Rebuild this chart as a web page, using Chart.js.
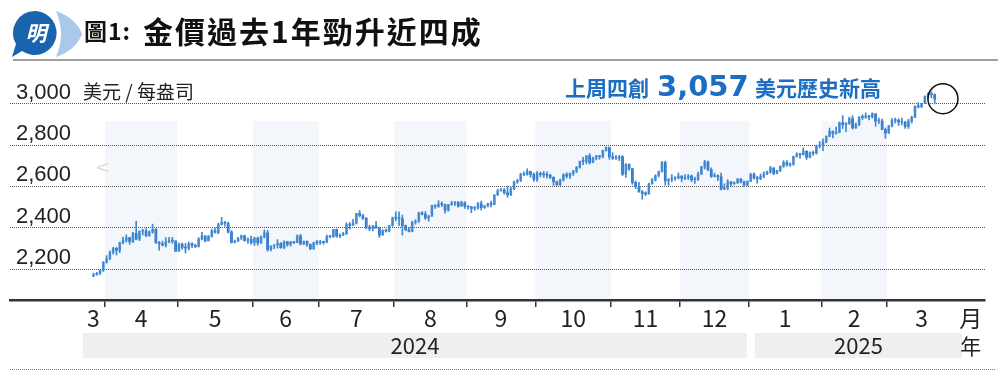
<!DOCTYPE html>
<html>
<head>
<meta charset="utf-8">
<script src="https://cdn.jsdelivr.net/npm/chart.js@4.4.1/dist/chart.umd.min.js"></script>
<style>
  html, body { margin: 0; padding: 0; background: #fff; }
  #wrap { position: relative; width: 1000px; height: 382px; overflow: hidden; font-family: "Noto Sans CJK TC", "Noto Sans", sans-serif; }
  #chart { position: absolute; left: 0; top: 0; }
  .abs { position: absolute; white-space: nowrap; line-height: 1; }
  #titleNo { left: 84px; top: 19px; font-size: 23px; font-weight: 700; letter-spacing: 1px; color: #111; }
  #title { left: 143px; top: 15px; font-size: 30px; font-weight: 700; letter-spacing: 2px; color: #111; }
  #rule { left: 13px; top: 59px; width: 985px; height: 2px; background: #a0a0a0; }
  #unit { left: 83px; top: 81px; font-size: 19px; color: #222; }
  .note { color: #1b6ec2; font-weight: 700; }
  #note1 { left: 565px; top: 77px; font-size: 21px; }
  #note2 { left: 657px; top: 72px; font-size: 29px; font-family: "DejaVu Sans", sans-serif; }
  #note3 { left: 755px; top: 77px; font-size: 21px; }
  #faint { left: 95px; top: 158px; font-size: 18px; color: #dcdcdc; font-family: "DejaVu Sans", sans-serif; }
</style>
</head>
<body>
<div id="wrap">
  <canvas id="chart" width="1000" height="382"></canvas>
  <svg class="abs" style="left:8px;top:8px" width="80" height="52" viewBox="0 0 80 52">
    <path d="M48 3 Q68 10 74 26 Q68 42 48 49 Q58 26 48 3 Z" fill="#a9c8ea"/>
    <path d="M28 3 A22 22 0 1 1 14 43 L4 49 L8 36 A22 22 0 0 1 28 3 Z" fill="#1a64ad"/>
    <text x="28" y="33" font-size="21" font-weight="700" fill="#fff" text-anchor="middle" font-family="Noto Sans CJK TC" font-style="italic">明</text>
  </svg>
  <div class="abs" id="titleNo">圖1:</div>
  <div class="abs" id="title">金價過去1年勁升近四成</div>
  <div class="abs" id="rule"></div>
  <div class="abs" id="unit">美元 / 每盎司</div>
  <div class="abs note" id="note1">上周四創</div>
  <div class="abs note" id="note2">3,057</div>
  <div class="abs note" id="note3">美元歷史新高</div>
  <div class="abs" id="faint">&lt;</div>
</div>
<script>
// trading days per month, Mar 2024 (from 25th) .. Mar 2025 (to 21st)
const months = ['3', '4', '5', '6', '7', '8', '9', '10', '11', '12', '1', '2', '3'];
const tradingDays = [4, 22, 23, 20, 23, 22, 21, 23, 21, 21, 22, 20, 15];
const years = ['2024', '2025'];
const yTicks = [2200, 2400, 2600, 2800, 3000];

// daily candles (US$/oz), one line per month
const opens = [
  2165,2172,2179,2194,
  2232,2251,2280,2300,2290, 2329,2339,2352,2333,2372, 2344,2383,2383,2361,2379, 2392,2327,2322,2316,2332, 2337,2335,
  2286,2320,2304, 2301,2323,2314,2309,2346, 2360,2336,2358,2385,2377, 2415,2425,2421,2379,2329, 2334,2350,2361,2338,2343,
  2327,2350,2326,2355,2375, 2294,2311,2316,2324,2303, 2332,2319,2330,2328,2360, 2322,2334,2319,2298,2327,
  2326,2332,2329,2356,2356, 2392,2359,2364,2371,2415, 2411,2422,2469,2458,2445, 2400,2396,2409,2398,2364, 2387,2384,2410,
  2447,2446, 2443,2409,2390,2382,2427, 2431,2472,2465,2447,2456, 2507,2504,2514,2512,2484, 2512,2518,2524,2505,2521,
  2503,2500,2493,2495,2516, 2497,2506,2516,2512,2558, 2578,2582,2569,2559,2587, 2622,2628,2657,2657,2672, 2658,
  2634,2663,2658,2656, 2653,2644,2622,2608,2631, 2657,2649,2663,2674,2692, 2721,2720,2748,2715,2736, 2747,2743,2774,2788,
  2743, 2736,2736,2743,2659,2706, 2685,2619,2598,2573,2565, 2563,2612,2631,2651,2670, 2715,2626,2633,2637,2639,
  2650,2639,2643,2650,2632, 2633,2660,2694,2718,2680, 2648,2652,2646,2586,2594, 2622,2612,2617,2634, 2621,2606,
  2624,2658, 2640,2636,2648,2661,2670, 2689,2663,2677,2697,2715, 2703,2708,2745,2755,2754, 2770,2740,2763,2760,2794,
  2798,2815,2842,2866,2856, 2861,2908,2898,2904,2928, 2883,2898,2935,2933,2940, 2936,2951,2915,2916,2875,
  2858,2893,2918,2920,2910, 2910,2889,2916,2934,2988, 2984,3001,3035,3048,3044
];
const highs = [
  2180,2184,2195,2236,
  2265,2288,2305,2305,2330, 2354,2365,2354,2378,2431, 2384,2392,2395,2385,2417, 2395,2334,2335,2352,2353, 2353,2338,
  2327,2326,2324, 2331,2327,2320,2352,2378, 2361,2362,2392,2398,2422, 2450,2431,2427,2386,2340, 2353,2364,2364,2351,2360,
  2354,2354,2361,2388,2387, 2313,2318,2342,2328,2336, 2334,2334,2334,2365,2368, 2336,2336,2321,2330,2339,
  2339,2335,2365,2363,2392, 2393,2370,2378,2424,2425, 2440,2469,2483,2464,2449, 2412,2410,2431,2400,2390, 2393,2412,2451,
  2477,2477, 2461,2413,2402,2431,2438, 2475,2478,2478,2460,2509, 2510,2531,2525,2514,2513, 2528,2526,2525,2528,2526,
  2504,2503,2503,2523,2529, 2507,2518,2529,2560,2586, 2590,2590,2600,2596,2625, 2635,2664,2670,2685,2674, 2665,
  2673,2669,2672,2670, 2659,2646,2625,2635,2661, 2666,2665,2677,2696,2722, 2740,2749,2758,2742,2750, 2749,2775,2790,2790,
  2763, 2750,2750,2749,2710,2709, 2688,2626,2619,2580,2574, 2615,2639,2656,2674,2721, 2722,2638,2657,2647,2665,
  2651,2657,2657,2655,2645, 2669,2697,2726,2722,2689, 2664,2656,2664,2612,2632, 2624,2622,2639,2639, 2627,2627,
  2664,2665, 2649,2660,2670,2674,2697, 2690,2679,2699,2724,2725, 2714,2746,2763,2760,2786, 2772,2767,2771,2800,2817,
  2830,2845,2882,2869,2887, 2911,2942,2908,2935,2942, 2906,2938,2947,2955,2943, 2956,2952,2930,2925,2882,
  2894,2928,2930,2927,2930, 2915,2924,2940,2990,3005, 3002,3038,3053,3057,3047
];
const lows = [
  2163,2170,2173,2188,
  2228,2245,2272,2268,2279, 2321,2330,2319,2327,2341, 2337,2364,2356,2358,2373, 2324,2291,2311,2306,2326, 2324,2285,
  2285,2295,2277, 2292,2303,2303,2306,2341, 2331,2336,2354,2373,2370, 2413,2407,2374,2325,2326, 2333,2341,2334,2324,2320,
  2314,2315,2324,2350,2286, 2287,2298,2301,2300,2298, 2310,2311,2323,2327,2316, 2317,2309,2293,2295,2318,
  2319,2319,2327,2350,2353, 2353,2352,2361,2367,2393, 2410,2417,2452,2440,2394, 2385,2384,2397,2353,2364, 2378,2380,2407,
  2433,2410, 2364,2385,2380,2380,2416, 2425,2462,2440,2431,2455, 2493,2498,2502,2470,2480, 2508,2506,2499,2503,2493,
  2489,2472,2484,2490,2485, 2493,2500,2500,2511,2556, 2576,2562,2547,2555,2584, 2614,2623,2652,2654,2644, 2624,
  2624,2646,2643,2639, 2637,2605,2604,2603,2625, 2640,2637,2653,2666,2688, 2705,2708,2708,2714,2728, 2731,2737,2770,2731,
  2730, 2730,2724,2652,2643,2677, 2610,2589,2572,2537,2555, 2562,2610,2626,2645,2670, 2606,2605,2621,2629,2636,
  2622,2632,2633,2623,2614, 2629,2656,2684,2676,2643, 2645,2629,2583,2584,2583, 2603,2610,2614,2616, 2597,2603,
  2623,2635, 2615,2632,2642,2656,2663, 2656,2660,2671,2692,2697, 2696,2701,2741,2735,2751, 2730,2738,2749,2756,2786,
  2772,2810,2840,2834,2853, 2859,2880,2864,2900,2877, 2880,2893,2922,2929,2921, 2930,2890,2903,2874,2832,
  2856,2888,2906,2894,2897, 2880,2880,2906,2932,2979, 2982,3000,3025,3028,2999
];
const closes = [
  2172,2179,2194,2232,
  2251,2280,2300,2290,2329, 2339,2352,2333,2372,2344, 2383,2383,2361,2379,2392, 2327,2322,2316,2332,2337, 2335,2286,
  2320,2304,2301, 2323,2314,2309,2346,2360, 2336,2358,2385,2377,2415, 2425,2421,2379,2329,2334, 2350,2361,2338,2343,2327,
  2350,2326,2355,2375,2294, 2311,2316,2324,2303,2332, 2319,2330,2328,2360,2322, 2334,2319,2298,2327,2326,
  2332,2329,2356,2356,2392, 2359,2364,2371,2415,2411, 2422,2469,2458,2445,2400, 2396,2409,2398,2364,2387, 2384,2410,2447,
  2446,2443, 2409,2390,2382,2427,2431, 2472,2465,2447,2456,2507, 2504,2514,2512,2484,2512, 2518,2524,2505,2521,2503,
  2500,2493,2495,2516,2497, 2506,2516,2512,2558,2578, 2582,2569,2559,2587,2622, 2628,2657,2657,2672,2658, 2634,
  2663,2658,2656,2653, 2644,2622,2608,2631,2657, 2649,2663,2674,2692,2721, 2720,2748,2715,2736,2747, 2743,2774,2788,2743,
  2736, 2736,2743,2659,2706,2685, 2619,2598,2573,2565,2563, 2612,2631,2651,2670,2715, 2626,2633,2637,2639,2650,
  2639,2643,2650,2632,2633, 2660,2694,2718,2680,2648, 2652,2646,2586,2594,2622, 2612,2617,2634,2621, 2606,2624,
  2658,2640, 2636,2648,2661,2670,2689, 2663,2677,2697,2715,2703, 2708,2745,2755,2754,2770, 2740,2763,2760,2794,2798,
  2815,2842,2866,2856,2861, 2908,2898,2904,2928,2883, 2898,2935,2933,2940,2936, 2951,2915,2916,2875,2858,
  2893,2918,2920,2910,2910, 2889,2916,2934,2988,2984, 3001,3035,3048,3044,3022
];

const upColor = '#5d9edb';
const downColor = '#1767c0';
const wickColor = '#3f87d2';
const narrow = "'Liberation Sans Narrow', 'Arial Narrow', 'Noto Sans CJK TC', sans-serif";

// month starts / boundaries / label positions on the trading-day index
const starts = [];
let acc = 0;
tradingDays.forEach(n => { starts.push(acc); acc += n; });
const boundaries = starts.slice(1).map(s => s - 0.5);
const tickText = {};
months.forEach((m, k) => {
  // partial months: first one under its first candle, last one where a full month's centre would be
  let c = starts[k] + (tradingDays[k] - 1) / 2;
  if (k === 0) c = 0;
  if (k === months.length - 1) c = starts[k] + 10;
  tickText[c] = m;
});
tickText[267] = '月';
const xTicks = boundaries.concat(Object.keys(tickText).map(Number)).sort((a, b) => a - b);
const boundarySet = new Set(boundaries);

const wicks = closes.map((c, i) => ({ x: i, y: [lows[i], highs[i]] }));
const bodies = closes.map((c, i) => ({ x: i, y: [opens[i], c] }));

const bandPlugin = {
  id: 'bands',
  beforeDraw(chart) {
    const { ctx, chartArea, scales: { x, y } } = chart;
    const top = y.getPixelForValue(2915);
    ctx.save();
    ctx.fillStyle = '#f3f6fa';
    tradingDays.forEach((n, k) => {
      if (k % 2 === 0) return;
      const a = x.getPixelForValue(starts[k] - 0.5);
      const b = x.getPixelForValue(starts[k] + n - 0.5);
      ctx.fillRect(a, top, b - a, chartArea.bottom - top);
    });
    ctx.restore();
  }
};

const yearPlugin = {
  id: 'years',
  afterDraw(chart) {
    const { ctx, scales: { x } } = chart;
    const split = x.getPixelForValue(starts[10] - 0.5);
    const boxes = [
      [x.getPixelForValue(-3.2), split - 2],
      [split + 6, x.getPixelForValue(264.3)]
    ];
    ctx.save();
    boxes.forEach((bx, k) => {
      ctx.fillStyle = '#efefef';
      ctx.fillRect(bx[0], 333, bx[1] - bx[0], 25);
      ctx.fillStyle = '#222';
      ctx.font = '22px ' + narrow;
      ctx.textAlign = 'center';
      ctx.textBaseline = 'middle';
      ctx.fillText(years[k], (bx[0] + bx[1]) / 2, 346);
    });
    ctx.font = "21px 'Noto Sans CJK TC', sans-serif";
    ctx.fillText('年', x.getPixelForValue(267), 346);
    // dotted rule under the year row
    ctx.strokeStyle = '#777';
    ctx.lineWidth = 1;
    ctx.setLineDash([1, 1]);
    ctx.beginPath();
    ctx.moveTo(10, 369.5);
    ctx.lineTo(995, 369.5);
    ctx.stroke();
    ctx.restore();
  }
};

const circlePlugin = {
  id: 'recordCircle',
  afterDatasetsDraw(chart) {
    const { ctx, scales: { x, y } } = chart;
    ctx.save();
    ctx.strokeStyle = '#111';
    ctx.lineWidth = 1.5;
    ctx.beginPath();
    ctx.arc(x.getPixelForValue(closes.length + 1.5), y.getPixelForValue(3024), 15, 0, Math.PI * 2);
    ctx.stroke();
    ctx.restore();
  }
};

new Chart(document.getElementById('chart'), {
  type: 'bar',
  data: {
    datasets: [{
      data: wicks,
      backgroundColor: wickColor,
      barThickness: 1,
      grouped: false,
      borderWidth: 0
    }, {
      data: bodies,
      backgroundColor: (ctx) => closes[ctx.dataIndex] >= opens[ctx.dataIndex] ? upColor : downColor,
      barThickness: 2,
      minBarLength: 1,
      grouped: false,
      borderWidth: 0
    }]
  },
  options: {
    responsive: false,
    animation: false,
    layout: { padding: { left: 10, right: 15, top: 83, bottom: 0 } },
    plugins: { legend: { display: false }, tooltip: { enabled: false } },
    scales: {
      x: {
        type: 'linear',
        min: -25.4,
        max: 271.3,
        offset: false,
        grid: {
          offset: false,
          drawOnChartArea: false,
          drawTicks: true,
          tickLength: 7,
          lineWidth: 1.5,
          color: (ctx) => ctx.tick && boundarySet.has(ctx.tick.value) ? '#333' : 'rgba(0,0,0,0)'
        },
        border: { display: true, color: '#333', width: 2.5 },
        ticks: {
          autoSkip: false,
          maxRotation: 0,
          padding: 0,
          color: '#222',
          font: { family: narrow, size: 23, lineHeight: 1 },
          callback: (v) => tickText[v] ?? ''
        },
        afterBuildTicks: (s) => { s.ticks = xTicks.map(v => ({ value: v })); },
        afterFit: (s) => { s.height = 82; }
      },
      y: {
        min: 2050,
        max: 3100,
        position: 'left',
        grid: { color: '#555', lineWidth: 1, drawTicks: false },
        border: { display: false, dash: [1, 1] },
        ticks: {
          mirror: true,
          padding: 6,
          labelOffset: -11,
          color: '#222',
          font: { family: "'Liberation Sans', Arial, sans-serif", size: 22 },
          callback: (v) => v.toLocaleString('en-US')
        },
        afterBuildTicks: (s) => { s.ticks = yTicks.map(v => ({ value: v })); },
        afterFit: (s) => { s.width = 0; }
      }
    }
  },
  plugins: [bandPlugin, yearPlugin, circlePlugin]
});
</script>
</body>
</html>
